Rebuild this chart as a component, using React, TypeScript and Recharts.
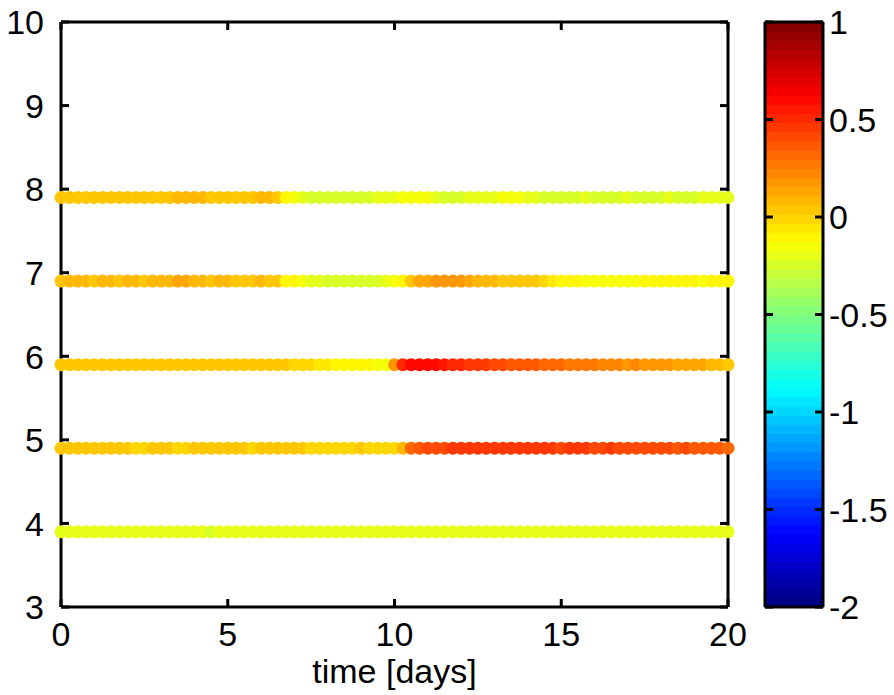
import React from "react";
import {
  ScatterChart,
  Scatter,
  XAxis,
  YAxis,
  Label,
  ReferenceArea,
} from "recharts";

// sampling of the time axis, in days
const TIME_STEP = 0.25;
const SAMPLE_COUNT = 81;
const times = Array.from({ length: SAMPLE_COUNT }, (_, i) => i * TIME_STEP);

// colour value of each sample, one list per depth level
const row39 = [
  -0.2, -0.21, -0.2, -0.19, -0.2, -0.21, -0.2, -0.2,
  -0.21, -0.2, -0.19, -0.2, -0.21, -0.2, -0.2, -0.19,
  -0.2, -0.21, -0.22, -0.2, -0.2, -0.19, -0.2, -0.21,
  -0.2, -0.2, -0.19, -0.2, -0.21, -0.2, -0.2, -0.19,
  -0.2, -0.21, -0.2, -0.2, -0.19, -0.2, -0.21, -0.2,
  -0.2, -0.19, -0.2, -0.21, -0.2, -0.2, -0.19, -0.2,
  -0.21, -0.2, -0.2, -0.19, -0.2, -0.21, -0.2, -0.2,
  -0.19, -0.2, -0.21, -0.2, -0.2, -0.19, -0.2, -0.21,
  -0.2, -0.2, -0.19, -0.2, -0.21, -0.2, -0.2, -0.19,
  -0.2, -0.21, -0.2, -0.2, -0.19, -0.2, -0.21, -0.2,
  -0.2,
];

const row49 = [
  0.03, 0.02, 0.03, 0.02, 0.02, 0.03, 0.02, 0.03,
  0.02, 0.01, -0.01, 0.02, 0.03, 0.02, 0.01, 0.0,
  0.02, 0.03, 0.02, 0.03, 0.02, 0.03, 0.02, 0.01,
  0.02, 0.03, 0.02, 0.02, 0.03, 0.02, 0.01, 0.0,
  -0.01, -0.02, 0.0, 0.01, 0.02, 0.01, 0.0, -0.02,
  -0.03, 0.1, 0.3,
  0.38, 0.4, 0.42, 0.43, 0.44, 0.45, 0.46, 0.45, 0.44, 0.46,
  0.47, 0.46, 0.45, 0.44, 0.46, 0.45, 0.44, 0.43, 0.45, 0.46,
  0.44, 0.43, 0.42, 0.44, 0.43, 0.42, 0.41, 0.42, 0.4, 0.41,
  0.4, 0.39, 0.4, 0.38, 0.37, 0.36, 0.35, 0.34,
];

const row59 = [
  0.03, 0.02, 0.03, 0.02, 0.03, 0.02, 0.02, 0.03,
  0.02, 0.03, 0.02, 0.02, 0.03, 0.02, 0.03, 0.02,
  0.03, 0.04, 0.02, 0.03, 0.02, 0.02, 0.03, 0.04,
  0.03, 0.02, 0.03, 0.02, 0.01, 0.0, -0.02, -0.04,
  -0.06, -0.08, -0.1, -0.12, -0.11, -0.12, -0.14, -0.13,
  0.2, 0.5,
  0.6, 0.62, 0.6, 0.58,
  0.55, 0.52, 0.5, 0.48, 0.46, 0.44,
  0.42, 0.4, 0.38, 0.37, 0.36, 0.35, 0.33, 0.32, 0.3, 0.28, 0.27,
  0.26, 0.25, 0.23, 0.24, 0.22, 0.2, 0.21, 0.19, 0.18,
  0.16, 0.17, 0.15, 0.13, 0.14, 0.12, 0.1, 0.08, 0.06,
];

const row69 = [
  0.06, 0.07, 0.08, 0.07, 0.06, 0.08, 0.07, 0.06,
  0.07, 0.08, 0.06, 0.07, 0.09, 0.1, 0.12, 0.11,
  0.09, 0.07, 0.06, 0.07, 0.08, 0.06, 0.05, 0.06,
  0.07, 0.06, 0.04,
  -0.08, -0.12,
  -0.16, -0.19, -0.21, -0.22, -0.23, -0.24, -0.23, -0.25, -0.24, -0.22,
  -0.2, -0.17, -0.1, 0.05,
  0.12, 0.14, 0.16, 0.17, 0.18, 0.16, 0.14,
  0.1, 0.08, 0.07, 0.06, 0.05, 0.04, 0.03, 0.02, 0.0,
  -0.05, -0.08, -0.1, -0.12, -0.13, -0.15, -0.16, -0.15, -0.14, -0.15, -0.13,
  -0.12, -0.11, -0.1, -0.12, -0.11, -0.1, -0.12, -0.13, -0.12, -0.11, -0.12,
];

const row79 = [
  0.05, 0.05, 0.06, 0.05, 0.05, 0.06, 0.05, 0.05,
  0.06, 0.05, 0.05, 0.06, 0.05, 0.06, 0.08, 0.08,
  0.08, 0.07, 0.05, 0.06, 0.05, 0.05, 0.06, 0.05,
  0.07, 0.08, 0.06,
  -0.1, -0.15,
  -0.2, -0.22, -0.24, -0.23, -0.22, -0.24, -0.25, -0.23, -0.22, -0.2, -0.18, -0.2,
  -0.15, -0.13, -0.14, -0.17,
  -0.2, -0.22, -0.23, -0.22, -0.21, -0.2, -0.19, -0.18, -0.17, -0.16, -0.17, -0.19,
  -0.21, -0.22, -0.23, -0.24, -0.23, -0.22, -0.21, -0.22, -0.23, -0.24, -0.22, -0.21,
  -0.22, -0.23, -0.24, -0.22, -0.21, -0.22, -0.23, -0.22, -0.21, -0.2, -0.21, -0.2,
];

const levels = [3.9, 4.9, 5.9, 6.9, 7.9];
const rows = [row39, row49, row59, row69, row79];

const xTicks = [0, 5, 10, 15, 20];
const yTicks = [3, 4, 5, 6, 7, 8, 9, 10];
const colorTicks = [-2, -1.5, -1, -0.5, 0, 0.5, 1];

const X_DOMAIN = [0, 20];
const Y_DOMAIN = [3, 10];
const CMIN = -2;
const CMAX = 1;
const LEVELS = 64;

// MATLAB-style jet colormap, quantised to 64 entries
const jet = (v: number) => {
  const k = Math.min(
    LEVELS - 1,
    Math.max(0, Math.floor(((v - CMIN) / (CMAX - CMIN)) * LEVELS))
  );
  const t = (k + 0.5) / LEVELS;
  const c = (o: number) =>
    Math.round(255 * Math.min(1, Math.max(0, 1.5 - Math.abs(4 * t - o))));
  return `rgb(${c(3)},${c(2)},${c(1)})`;
};

const bands = Array.from({ length: LEVELS }, (_, k) => {
  const lo = CMIN + (k * (CMAX - CMIN)) / LEVELS;
  const hi = CMIN + ((k + 1) * (CMAX - CMIN)) / LEVELS;
  return { lo, hi, color: jet((lo + hi) / 2) };
});

const series = levels.map((y, r) =>
  rows[r].map((v, i) => ({ t: times[i], y, v }))
);

// invisible corner points so every axis gets a scale
const mainCorners = [
  { t: X_DOMAIN[0], y: Y_DOMAIN[0] },
  { t: X_DOMAIN[1], y: Y_DOMAIN[1] },
];
const barCorners = [
  { t: 0, y: CMIN },
  { t: 1, y: CMAX },
];

const FONT = 34;
const TICK_LEN = 8;
const TICK_SIZE = 1;
const AXIS_W = 3;
const INK = "#000";

const Dot = (props: any) => (
  <circle cx={props.cx} cy={props.cy} r={6.5} fill={jet(props.payload.v)} />
);
const Nothing = () => <g />;

// tick marks point into the box, labels sit outside
const BottomTick = (m: number, showLabel = true) => (props: any) => {
  const { x, y, payload } = props;
  const axisY = y - m - TICK_SIZE;
  return (
    <g>
      <line x1={x} x2={x} y1={axisY} y2={axisY - TICK_LEN} stroke={INK} strokeWidth={AXIS_W} />
      {showLabel && (
        <text x={x} y={y} dy="0.72em" textAnchor="middle" fontSize={FONT} fill={INK}>
          {payload.value}
        </text>
      )}
    </g>
  );
};

const TopTick = (props: any) => {
  const axisY = props.y + TICK_SIZE;
  return (
    <line x1={props.x} x2={props.x} y1={axisY} y2={axisY + TICK_LEN} stroke={INK} strokeWidth={AXIS_W} />
  );
};

const LeftTick = (m: number, showLabel = true) => (props: any) => {
  const { x, y, payload } = props;
  const axisX = x + m + TICK_SIZE;
  return (
    <g>
      <line x1={axisX} x2={axisX + TICK_LEN} y1={y} y2={y} stroke={INK} strokeWidth={AXIS_W} />
      {showLabel && (
        <text x={x} y={y} dy="0.36em" textAnchor="end" fontSize={FONT} fill={INK}>
          {payload.value}
        </text>
      )}
    </g>
  );
};

const RightTick = (m: number, showLabel = false) => (props: any) => {
  const { x, y, payload } = props;
  const axisX = x - m - TICK_SIZE;
  return (
    <g>
      <line x1={axisX} x2={axisX - TICK_LEN} y1={y} y2={y} stroke={INK} strokeWidth={AXIS_W} />
      {showLabel && (
        <text x={x} y={y} dy="0.36em" textAnchor="start" fontSize={FONT} fill={INK}>
          {String(payload.value)}
        </text>
      )}
    </g>
  );
};

const axisLine = { stroke: INK, strokeWidth: AXIS_W };

export default function App() {
  return (
    <div
      style={{
        position: "absolute",
        left: 0,
        top: 0,
        width: 894,
        height: 695,
        background: "#fff",
        fontFamily: '"Liberation Sans", Arial, sans-serif',
      }}
    >
      <div style={{ position: "absolute", left: 0, top: 0 }}>
        <ScatterChart
          width={780}
          height={695}
          margin={{ top: 20, right: 50, bottom: 0, left: 0 }}
        >
          <Scatter
            data={mainCorners}
            xAxisId="top"
            yAxisId="right"
            shape={Nothing}
            isAnimationActive={false}
          />
          {series.map((pts, r) => (
            <Scatter
              key={levels[r]}
              data={pts}
              shape={Dot}
              isAnimationActive={false}
            />
          ))}
          <XAxis
            dataKey="t"
            type="number"
            domain={X_DOMAIN}
            ticks={xTicks}
            height={88}
            tickSize={TICK_SIZE}
            tickMargin={14}
            tickLine={false}
            axisLine={axisLine}
            tick={BottomTick(14)}
            interval={0}
          >
            <Label
              value="time [days]"
              position="insideBottom"
              offset={12}
              style={{ fontSize: FONT, fill: INK }}
            />
          </XAxis>
          <XAxis
            xAxisId="top"
            orientation="top"
            dataKey="t"
            type="number"
            domain={X_DOMAIN}
            ticks={xTicks}
            height={2}
            tickSize={TICK_SIZE}
            tickMargin={0}
            tickLine={false}
            axisLine={axisLine}
            tick={TopTick}
            interval={0}
          />
          <YAxis
            dataKey="y"
            type="number"
            domain={Y_DOMAIN}
            ticks={yTicks}
            width={61}
            tickSize={TICK_SIZE}
            tickMargin={16}
            tickLine={false}
            axisLine={axisLine}
            tick={LeftTick(16)}
            interval={0}
          />
          <YAxis
            yAxisId="right"
            orientation="right"
            dataKey="y"
            type="number"
            domain={Y_DOMAIN}
            ticks={yTicks}
            width={2}
            tickSize={TICK_SIZE}
            tickMargin={0}
            tickLine={false}
            axisLine={axisLine}
            tick={RightTick(0)}
            interval={0}
          />
        </ScatterChart>
      </div>

      {/* colour bar */}
      <div style={{ position: "absolute", left: 762, top: 0 }}>
        <ScatterChart
          width={132}
          height={695}
          margin={{ top: 20, right: 0, bottom: 0, left: 0 }}
        >
          <Scatter data={barCorners} shape={Nothing} isAnimationActive={false} />
          <Scatter
            data={barCorners}
            xAxisId="top"
            yAxisId="right"
            shape={Nothing}
            isAnimationActive={false}
          />
          {bands.map((b) => (
            <ReferenceArea
              key={b.lo}
              x1={0}
              x2={1}
              y1={b.lo}
              y2={b.hi}
              fill={b.color}
              fillOpacity={1}
              stroke={b.color}
              strokeWidth={1.5}
              ifOverflow="visible"
            />
          ))}
          <XAxis
            dataKey="t"
            type="number"
            domain={[0, 1]}
            height={88}
            tick={false}
            tickLine={false}
            axisLine={axisLine}
          />
          <XAxis
            xAxisId="top"
            orientation="top"
            dataKey="t"
            type="number"
            domain={[0, 1]}
            height={2}
            tick={false}
            tickLine={false}
            axisLine={axisLine}
          />
          <YAxis
            dataKey="y"
            type="number"
            domain={[CMIN, CMAX]}
            ticks={colorTicks}
            width={3}
            tickSize={TICK_SIZE}
            tickMargin={0}
            tickLine={false}
            axisLine={axisLine}
            tick={LeftTick(0, false)}
            interval={0}
          />
          <YAxis
            yAxisId="right"
            orientation="right"
            dataKey="y"
            type="number"
            domain={[CMIN, CMAX]}
            ticks={colorTicks}
            width={71}
            tickSize={TICK_SIZE}
            tickMargin={5}
            tickLine={false}
            axisLine={axisLine}
            tick={RightTick(5, true)}
            interval={0}
          />
        </ScatterChart>
      </div>
    </div>
  );
}
